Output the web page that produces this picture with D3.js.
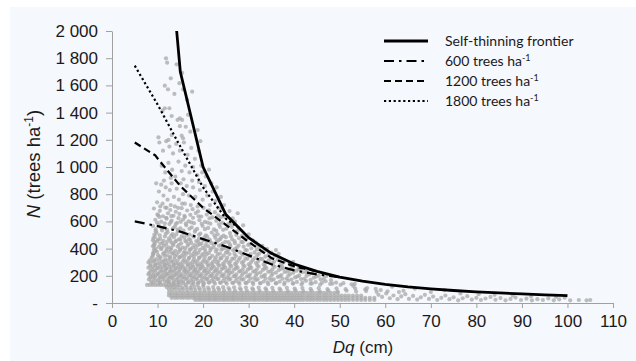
<!DOCTYPE html>
<html>
<head>
<meta charset="utf-8">
<script src="https://cdn.jsdelivr.net/npm/d3@7"></script>
<style>
  body { margin: 0; background: #fff; }
  svg { display: block; }
  .tick text { font-family: "Liberation Sans", Arial, sans-serif; font-size: 17px; fill: #1a1a1a; }
</style>
</head>
<body>
<div id="chart"></div>
<script>
// Datos
var xTicks = [0, 10, 20, 30, 40, 50, 60, 70, 80, 90, 100, 110];
var yTicks = [0, 200, 400, 600, 800, 1000, 1200, 1400, 1600, 1800, 2000];

// frontera de autoraleo
var frontierDq = [14.2, 15, 20, 25, 30, 35, 40, 45, 50, 55, 60, 65, 70, 75, 80, 85, 90, 95, 100];
var frontierN  = [2000, 1700, 1000, 650, 480, 365, 287, 232, 190, 160, 137, 118, 104, 92, 82, 74, 67, 60, 54];

var d600Dq = [5, 10, 15, 20, 25, 30, 35, 40, 45, 50];
var d600N  = [600, 565, 525, 470, 415, 350, 285, 240, 210, 190];

var d1200Dq = [5, 9.5, 10.2, 15, 20, 25, 30, 35, 40, 45];
var d1200N  = [1180, 1085, 1055, 860, 700, 575, 450, 330, 270, 232];

var d1800Dq = [5, 10, 15, 20, 25, 28];
var d1800N  = [1745, 1460, 1150, 850, 620, 550];

var legendLabels = ["Self-thinning frontier", "600 trees ha", "1200 trees ha", "1800 trees ha"];

// parcelas [Dq, N] por franja
var plotsTop = [
  [11.85,1799],[12.1,1767],[14.2,1755],[15.4,1693],[12.9,1652],[14.8,1616],[11.6,1598],[12.3,1571],
  [15.6,1571],[17.6,1554],[13.7,1537],[16.5,1493],[11.6,1432],[12.6,1432],[11.1,1414],[13.1,1375],
  [16.7,1384],[14.9,1358],[14.4,1346],[15.4,1346],[16.2,1296],[18.8,1272],[10.2,1218],[13.1,1235],
  [15.3,1230],[15.6,1211],[12.4,1199],[14.9,1300],[17.2,1260],[19.4,1190]
];
var plotsHigh = [
  [10.4,1180],[11.2,1120],[11.9,1190],[12.6,1150],[13.4,1100],[14.1,1170],[14.9,1120],[15.8,1180],
  [16.6,1090],[17.4,1140],[18.2,1060],[19.0,1120],[19.6,1010],[10.9,1010],[11.7,960],[12.4,1030],
  [13.2,980],[13.9,930],[14.6,1040],[15.3,970],[16.1,1010],[17.0,960],[17.8,1000],[18.7,940],
  [19.8,960],[20.6,930],[21.3,980],[12.9,920],[15.7,910],[11.4,900],
  [9.7,880],[10.3,820],[10.8,870],[11.3,790],[11.8,850],[12.2,760],[12.7,830],[13.1,880],[13.6,780],
  [14.2,840],[14.7,760],[15.1,880],[15.6,800],[16.0,730],[16.4,860],[16.9,790],[17.3,720],[17.8,850],
  [18.3,780],[18.8,710],[19.3,830],[19.9,760],[20.4,860],[20.9,790],[21.5,720],[22.1,820],[22.7,750],
  [23.3,700],[23.9,780],[24.6,720],[9.9,740],[10.6,710],[11.1,730],[12.0,700],[12.9,720],[13.8,710],
  [14.5,700],[15.4,730],[17.6,900],[19.1,890],[21.8,880],[23.0,850]
];
var plotsMid = [
  [9.2,695],[10.5,678],[11.7,702],[12.8,684],[14.0,671],[15.3,697],[16.5,680],[17.7,690],[18.9,674],
  [20.1,699],[21.3,682],[22.6,668],[24.0,693],[25.8,676],[27.6,660],
  [10.1,645],[10.0,652],[11.2,638],[12.3,660],[13.5,641],[14.8,655],[16.0,632],[17.2,648],[18.4,661],
  [19.6,636],[20.8,650],[22.0,629],[23.3,645],[24.8,634],[26.5,622],
  [9.5,612],[10.8,598],[12.0,620],[13.1,605],[14.3,590],[15.6,614],[16.8,600],[18.0,587],[19.2,609],
  [20.4,596],[21.6,583],[22.9,604],[24.2,590],[25.5,578],[27.0,598],[28.8,571],
  [9.0,566],[10.2,575],[11.5,558],[12.6,580],[13.8,562],[15.0,549],[16.3,571],[17.5,556],[18.7,545],
  [19.9,566],[21.1,552],[22.4,541],[23.7,560],[25.1,546],[26.3,560],[27.8,538],
  [9.6,528],[9.8,515],[11.0,534],[12.2,520],[13.3,507],[14.5,527],[15.8,512],[17.0,503],[18.2,524],
  [19.4,510],[20.6,498],[21.9,518],[23.2,505],[24.5,495],[25.9,514],[27.3,500],[28.5,492],[30.0,505],
  [9.1,478],[9.4,486],[10.6,471],[11.6,489],[12.5,475],[13.6,484],[14.7,468],[15.9,481],[16.9,470],
  [18.0,487],[19.1,473],[20.3,482],[21.4,466],[22.7,479],[23.8,470],[25.0,484],[26.4,468],[27.9,476],
  [29.4,465],[31.0,458],
  [9.3,448],[9.9,455],[11.1,441],[12.1,452],[13.0,444],[14.1,457],[15.2,439],[16.3,450],[17.4,442],
  [18.5,455],[19.6,437],[20.8,449],[21.9,440],[23.0,452],[24.3,436],[25.6,447],[27.0,440],[28.4,449],
  [30.2,432],[32.0,428],
  [9.0,418],[9.2,425],[10.3,412],[11.4,421],[12.4,410],[13.4,424],[14.4,415],[15.5,407],[16.6,421],
  [17.7,410],[18.8,423],[19.9,406],[21.1,418],[22.3,409],[23.5,421],[24.8,404],[26.0,416],[27.4,407],
  [28.9,414],[30.6,402],[32.4,410],[34.0,398],
  [9.2,392],[9.6,385],[10.8,396],[11.9,381],[12.9,394],[13.9,384],[15.0,390],[16.0,378],[17.1,393],
  [18.2,380],[19.3,391],[20.5,377],[21.6,389],[22.8,379],[24.0,392],[25.3,375],[26.6,387],[28.0,376],
  [29.6,388],[31.3,372],[33.0,380],[35.0,370],
  [9.0,358],[9.1,364],[10.1,352],[11.2,361],[12.2,350],[13.2,363],[14.2,354],[15.3,347],[16.3,362],
  [17.4,351],[18.5,360],[19.7,348],[20.8,358],[22.0,346],[23.2,357],[24.5,349],[25.8,360],[27.2,345],
  [28.7,355],[30.2,343],[31.9,352],[33.7,341],[35.8,348],
  [8.7,330],[9.7,322],[10.7,333],[11.7,320],[12.7,331],[13.7,324],[14.8,335],[15.8,319],[16.9,330],
  [18.0,321],[19.1,333],[20.2,318],[21.4,329],[22.6,320],[23.8,331],[25.1,317],[26.4,327],[27.8,318],
  [29.3,328],[30.9,315],[32.6,325],[34.4,314],[36.4,320],[38.0,312],
  [8.0,298],[9.0,305],[10.0,293],[11.0,302],[12.0,291],[13.0,304],[14.0,295],[15.0,288],[16.1,301],
  [17.2,290],[18.3,300],[19.4,287],[20.6,299],[21.8,289],[23.0,298],[24.3,286],[25.6,296],[27.0,288],
  [28.5,297],[30.0,285],[31.6,294],[33.3,284],[35.1,292],[37.0,281],[39.0,288]
];
// puntos intermedios de la nube densa
var plotsFill = [
  [10.4,633],[11.9,627],[13.0,639],[14.6,624],[15.9,641],[17.8,626],[19.0,638],[21.4,623],[23.9,631],
  [9.9,592],[11.6,586],[12.9,595],[14.0,581],[15.1,597],[16.2,584],[17.4,593],[19.7,582],[21.0,591],
  [23.5,579],[26.0,586],
  [9.6,541],[10.9,548],[12.1,537],[13.4,549],[14.4,540],[15.7,533],[17.0,546],[18.3,535],[20.4,543],
  [22.9,530],[24.4,538],[27.1,525],
  [9.3,503],[10.5,497],[11.8,509],[13.0,495],[14.1,504],[15.3,490],[16.5,500],[17.8,492],[19.1,501],
  [20.9,488],[22.5,497],[24.0,484],[26.1,490],[29.0,480],
  [9.0,462],[10.1,467],[11.3,457],[12.8,463],[13.9,452],[15.0,466],[16.1,458],[17.2,463],[18.9,450],
  [20.1,461],[21.5,455],[23.4,462],[24.9,450],[26.9,456],[28.7,447],[31.6,444],
  [9.4,433],[10.6,437],[11.9,430],[13.5,435],[14.7,427],[16.8,434],[18.1,426],[19.3,432],[20.5,424],
  [22.4,431],[23.9,425],[25.9,430],[27.8,422],[29.9,427],[33.0,420],
  [9.5,402],[10.9,406],[12.0,398],[13.0,404],[14.9,397],[16.1,403],[17.3,395],[18.4,400],[20.4,396],
  [21.7,401],[23.0,393],[24.3,399],[25.5,390],[27.0,396],[29.3,389],[31.8,394],[33.5,385],[36.0,389],
  [9.1,373],[9.9,377],[11.5,370],[12.6,376],[13.5,368],[14.6,374],[15.7,366],[16.9,372],[17.9,364],
  [19.0,370],[20.0,362],[21.3,368],[23.7,364],[25.0,370],[26.9,361],[28.4,367],[30.4,359],[32.3,364],
  [34.4,357],[36.6,362],
  [8.9,343],[10.4,340],[11.6,346],[12.8,338],[13.8,344],[14.9,336],[15.9,342],[17.0,334],[18.0,340],
  [19.2,332],[20.4,338],[21.5,330],[22.8,336],[24.0,328],[25.3,334],[26.8,326],[28.1,332],[29.7,324],
  [31.3,330],[33.0,322],[34.9,328],[37.0,320],
  [8.3,313],[9.3,311],[10.4,316],[11.4,308],[12.3,314],[13.3,306],[14.4,312],[15.5,305],[16.6,311],
  [17.7,304],[18.8,310],[19.9,303],[21.0,309],[22.2,302],[23.4,308],[24.7,301],[26.0,307],[27.4,300],
  [28.9,306],[30.5,299],[32.1,305],[33.8,298],[35.6,304],[37.6,297],[39.8,302],
  [8.5,286],[9.5,283],[10.6,288],[11.5,281],[12.5,285],[13.5,280],[14.5,286],[15.5,279],[16.6,284],
  [17.7,278],[18.7,283],[19.8,277],[21.0,282],[22.1,276],[23.3,281],[24.6,275],[25.9,280],[27.3,274],
  [28.8,279],[30.3,273],[31.9,278],[33.6,272],[35.4,276],[37.3,270],[39.3,274],[41.0,268],
  [8.0,260],[9.0,264],[10.1,258],[11.1,263],[12.0,256],[13.1,262],[14.1,255],[15.1,260],[16.2,254],
  [17.3,259],[18.4,253],[19.5,258],[20.7,252],[21.9,257],[23.1,251],[24.4,256],[25.8,250],[27.2,255],
  [28.7,249],[30.2,254],[31.8,248],[33.5,253],[35.2,247],[37.1,251],[39.0,245],[41.0,249],[43.0,243],
  [8.5,236],[9.5,239],[10.6,233],[11.7,238],[12.7,232],[13.7,237],[14.7,231],[15.8,236],[16.8,230],
  [17.9,235],[19.0,229],[20.2,234],[21.3,228],[22.5,233],[23.8,227],[25.1,232],[26.4,226],[27.9,231],
  [29.4,225],[31.0,230],[32.6,224],[34.3,229],[36.0,223],[37.9,228],[39.8,222],[41.8,226],[44.0,220],
  [8.0,211],[9.0,208],[10.0,213],[11.0,206],[12.0,212],[13.0,205],[14.0,210],[15.0,204],[16.1,209],
  [17.2,203],[18.3,208],[19.4,202],[20.6,207],[21.8,201],[23.0,206],[24.3,200],[25.6,205],[27.0,199],
  [28.5,204],[30.0,198],[31.6,203],[33.3,197],[35.0,202],[36.8,196],[38.7,200],[40.7,195],[42.7,199],
  [44.8,193],[47.0,197],
  [8.4,186],[9.4,189],[10.4,184],[11.4,188],[12.4,183],[13.4,187],[14.4,182],[15.4,186],[16.5,181],
  [17.6,185],[18.7,180],[19.8,184],[21.0,179],[22.2,183],[23.4,178],[24.7,182],[26.0,177],[27.4,181],
  [28.9,176],[30.4,180],[32.0,175],[33.7,179],[35.5,174],[37.4,178],[39.4,172],[41.5,176],[43.6,170],
  [45.8,174],[48.1,168],
  [8.6,158],[9.6,161],[10.6,156],[11.6,160],[12.6,155],[13.6,159],[14.6,154],[15.6,158],[16.7,153],
  [17.8,157],[18.9,152],[20.0,156],[21.2,151],[22.4,155],[23.7,150],[25.0,154],[26.4,149],[27.8,153],
  [29.3,148],[30.9,152],[32.5,147],[34.2,151],[36.0,146],[37.9,150],[39.8,145],[41.8,149],[43.9,144],
  [46.1,148],[48.4,143],[50.8,146],[53.3,140]
];
var plotsLow = [
  [8.4,272],[9.5,278],[10.5,268],[11.6,276],[12.6,266],[13.6,279],[14.6,270],[15.6,263],[16.7,276],
  [17.8,266],[18.9,274],[20.0,262],[21.2,273],[22.4,264],[23.6,275],[24.9,261],[26.2,271],[27.6,260],
  [29.1,270],[30.6,259],[32.2,268],[33.9,257],[35.7,266],[37.6,255],[39.6,262],[41.5,252],
  [8.8,248],[9.8,253],[10.9,243],[11.9,251],[12.9,241],[13.9,254],[14.9,245],[16.0,238],[17.1,251],
  [18.2,241],[19.3,250],[20.4,237],[21.6,248],[22.8,239],[24.1,250],[25.4,236],[26.8,246],[28.2,235],
  [29.8,245],[31.4,234],[33.1,243],[34.8,232],[36.6,241],[38.5,230],[40.5,238],[42.5,228],
  [8.2,222],[9.2,228],[10.2,218],[11.3,226],[12.3,216],[13.3,229],[14.3,220],[15.3,213],[16.4,226],
  [17.5,216],[18.6,224],[19.7,212],[20.9,223],[22.1,214],[23.3,225],[24.6,211],[25.9,221],[27.3,210],
  [28.8,220],[30.3,209],[31.9,218],[33.6,207],[35.3,216],[37.2,205],[39.1,213],[41.1,203],[43.3,210],
  [45.4,200],
  [8.6,198],[9.6,203],[10.6,193],[11.7,201],[12.7,191],[13.7,204],[14.7,195],[15.8,188],[16.9,201],
  [18.0,191],[19.1,199],[20.3,187],[21.5,198],[22.7,189],[24.0,200],[25.3,186],[26.7,196],[28.1,185],
  [29.6,195],[31.2,184],[32.8,193],[34.6,182],[36.4,191],[38.3,180],[40.2,188],[42.2,178],[44.3,186],
  [46.5,176],
  [8.1,173],[9.1,178],[10.1,168],[11.1,176],[12.1,166],[13.1,179],[14.1,170],[15.1,164],[16.2,176],
  [17.3,167],[18.4,175],[19.5,163],[20.7,174],[21.9,165],[23.1,176],[24.4,162],[25.7,172],[27.1,161],
  [28.5,171],[30.0,160],[31.6,169],[33.3,158],[35.0,167],[36.8,157],[38.7,165],[40.6,155],[42.6,163],
  [44.7,153],[46.9,160],[49.2,150],
  [9.0,150],[10.4,148],[12.3,152],[13.5,146],[14.6,151],[15.7,145],[16.8,150],[17.9,144],[19.0,149],
  [20.2,143],[21.4,150],[22.6,142],[23.9,148],[25.2,141],[26.6,147],[28.0,140],[29.5,146],[31.0,139],
  [32.6,145],[34.3,138],[36.0,144],[37.8,137],[39.7,143],[41.6,136],[43.6,142],[45.7,135],[47.9,140],
  [50.2,134],[52.6,138],
  [7.7,133],[8.3,133],[8.9,133],[9.5,133],[10.1,133],[10.7,133],[11.3,133],[11.9,133],[12.5,133],
  [13.1,133],[13.7,133],[14.3,133],[15.0,133],[16.2,133],[17.5,133],[18.8,133],[20.0,133],
  [12.0,117],[12.8,120],[13.6,115],[14.5,119],[15.4,114],[16.3,118],[17.2,113],[18.1,117],[19.1,112],
  [20.1,118],[21.1,113],[22.2,117],[23.3,111],[24.4,116],[25.6,110],[26.8,115],[28.1,109],[29.4,114],
  [30.8,108],[32.2,113],[33.7,107],[35.2,112],[36.8,106],[38.4,111],[40.1,105],[41.8,110],[43.6,104],
  [45.4,109],[47.3,103],[49.3,108],[51.3,102],[53.4,106],[55.6,100],[57.9,104],
  [12.5,100],[13.2,98],[14.0,101],[14.8,97],[15.6,100],[16.5,96],[17.4,100],[18.3,95],[19.3,99],
  [20.3,94],[21.3,99],[22.4,94],[23.5,98],[24.6,93],[25.8,97],[27.0,92],[28.3,97],[29.6,91],
  [31.0,96],[32.4,90],[33.9,95],[35.4,89],[37.0,94],[38.6,88],[40.3,93],[42.0,87],[43.8,92],
  [45.6,86],[47.5,91],[49.5,85],[51.5,90],[53.6,84],[55.8,88],[58.1,82],[60.5,86],[63.0,80]
];
var plotsTail = [
  [58.5,60],[59.3,45],[60.2,70],[61.0,35],[61.8,55],[62.7,28],[63.5,48],[64.4,65],[65.2,30],[66.1,52],
  [67.0,25],[67.8,42],[68.7,60],[69.6,30],[70.5,47],[71.4,22],[72.3,38],[73.2,55],[74.1,28],[75.0,42],
  [76.0,20],[77.0,35],[78.0,50],[79.0,25],[80.0,38],[81.0,22],[82.0,33],[83.1,45],[84.2,24],[85.3,36],
  [86.4,20],[87.5,30],[88.6,40],[89.8,22],[91.0,32],[92.2,20],[93.4,28],[94.6,22],[95.8,34],[97.0,20],
  [98.2,26],[99.4,40],[100.6,20],[102.5,22],[104.2,20],[105.0,22],
  [53.0,125],[56.0,110],[59.0,95],[61.5,120],[64.0,90],[66.5,105],[70.0,80],[73.0,95],[76.5,70],
  [80.5,65],[84.0,60],[88.0,55],[92.0,50],[97.5,45]
];
// filas densas de baja densidad (N, Dq min, Dq max) y Dq observados
var baseRowN   = [75, 55, 38, 22];
var baseRowMin = [12.5, 12.5, 13.0, 18.0];
var baseRowMax = [50.0, 55.0, 58.0, 58.0];
var baseDq = [12.5, 13.1, 13.8, 14.4, 15.1, 15.7, 16.4, 17.0, 17.7, 18.3, 19.0, 19.6, 20.3, 21.0, 21.6,
  22.3, 22.9, 23.6, 24.3, 24.9, 25.6, 26.3, 26.9, 27.6, 28.3, 28.9, 29.6, 30.3, 31.0, 31.6, 32.3, 33.0,
  33.7, 34.3, 35.0, 35.7, 36.4, 37.1, 37.8, 38.5, 39.2, 39.9, 40.6, 41.3, 42.0, 42.8, 43.5, 44.2, 45.0,
  45.7, 46.5, 47.2, 48.0, 48.8, 49.6, 50.4, 51.2, 52.0, 52.9, 53.8, 54.7, 55.6, 56.6, 57.6];

var width = 636, height = 361;

var svg = d3.select("#chart").append("svg")
    .attr("width", width)
    .attr("height", height);

// fondo del area
svg.append("rect")
    .attr("x", 10).attr("y", 7)
    .attr("width", width - 10).attr("height", height - 7)
    .attr("fill", "#f5f8fc");

var x = d3.scaleLinear().domain([0, 110]).range([112, 613]);
var y = d3.scaleLinear().domain([0, 2000]).range([303, 31]);

// puntos
var pts = [].concat(plotsTop, plotsHigh, plotsMid, plotsFill, plotsLow, plotsTail);
baseRowN.forEach(function(n, i) {
  baseDq.forEach(function(dq) {
    if (dq >= baseRowMin[i] && dq <= baseRowMax[i]) pts.push([dq, n]);
  });
});

svg.append("g").selectAll("circle")
  .data(pts)
  .enter().append("circle")
    .attr("cx", function(d) { return x(d[0]); })
    .attr("cy", function(d) { return y(d[1]); })
    .attr("r", 2.1)
    .attr("fill", "#a8a8a8")
    .attr("fill-opacity", 0.75);

// ejes
var xAxis = d3.axisBottom(x).tickValues(xTicks).tickSize(5).tickPadding(7).tickSizeOuter(0);
var yAxis = d3.axisLeft(y).tickValues(yTicks).tickSize(6).tickPadding(8).tickSizeOuter(0)
    .tickFormat(function(d) { return d === 0 ? "-" : d3.format(",")(d).replace(",", " "); });

var gx = svg.append("g").attr("transform", "translate(0," + y(0) + ")").call(xAxis);
var gy = svg.append("g").attr("transform", "translate(" + x(0) + ",0)").call(yAxis);
[gx, gy].forEach(function(g) {
  g.select(".domain").attr("stroke", "#a0a0a0");
  g.selectAll(".tick line").attr("stroke", "#a0a0a0");
});

// lineas
var line = d3.line().x(function(d) { return x(d[0]); }).y(function(d) { return y(d[1]); });
var series = [
  {dq: frontierDq, n: frontierN, dash: null, w: 2.8},
  {dq: d600Dq, n: d600N, dash: "10,5,2.5,5", w: 2.2},
  {dq: d1200Dq, n: d1200N, dash: "7,4", w: 2.2},
  {dq: d1800Dq, n: d1800N, dash: "2.2,2.6", w: 2.2}
];
series.forEach(function(s) {
  svg.append("path")
    .datum(d3.zip(s.dq, s.n))
    .attr("d", line)
    .attr("fill", "none")
    .attr("stroke", "#000")
    .attr("stroke-width", s.w)
    .attr("stroke-dasharray", s.dash);
});

// titulos de ejes
var xt = svg.append("text")
    .attr("x", 363).attr("y", 353)
    .attr("text-anchor", "middle")
    .style("font-family", "Liberation Sans, Arial, sans-serif")
    .style("font-size", "17px")
    .attr("fill", "#1a1a1a");
xt.append("tspan").style("font-style", "italic").text("Dq");
xt.append("tspan").text(" (cm)");

var yt = svg.append("text")
    .attr("transform", "translate(40,164) rotate(-90)")
    .attr("text-anchor", "middle")
    .style("font-family", "Liberation Sans, Arial, sans-serif")
    .style("font-size", "18.5px")
    .attr("fill", "#1a1a1a");
yt.append("tspan").style("font-style", "italic").text("N");
yt.append("tspan").text(" (trees ha");
yt.append("tspan").attr("dy", -7).style("font-size", "12px").text("-1");
yt.append("tspan").attr("dy", 7).text(")");

// leyenda
var leg = svg.append("g");
legendLabels.forEach(function(lbl, i) {
  var ly = 41 + i * 20;
  leg.append("line")
    .attr("x1", 384).attr("x2", 428)
    .attr("y1", ly).attr("y2", ly)
    .attr("stroke", "#000")
    .attr("stroke-width", series[i].w)
    .attr("stroke-dasharray", series[i].dash);
  var t = leg.append("text")
    .attr("x", 445).attr("y", ly + 5)
    .style("font-family", "Lato, 'Open Sans', sans-serif")
    .style("font-size", "14px")
    .attr("fill", "#1a1a1a")
    .text(lbl);
  if (i > 0) {
    t.append("tspan").attr("dy", -5).style("font-size", "9px").text("-1");
  }
});
</script>
</body>
</html>
